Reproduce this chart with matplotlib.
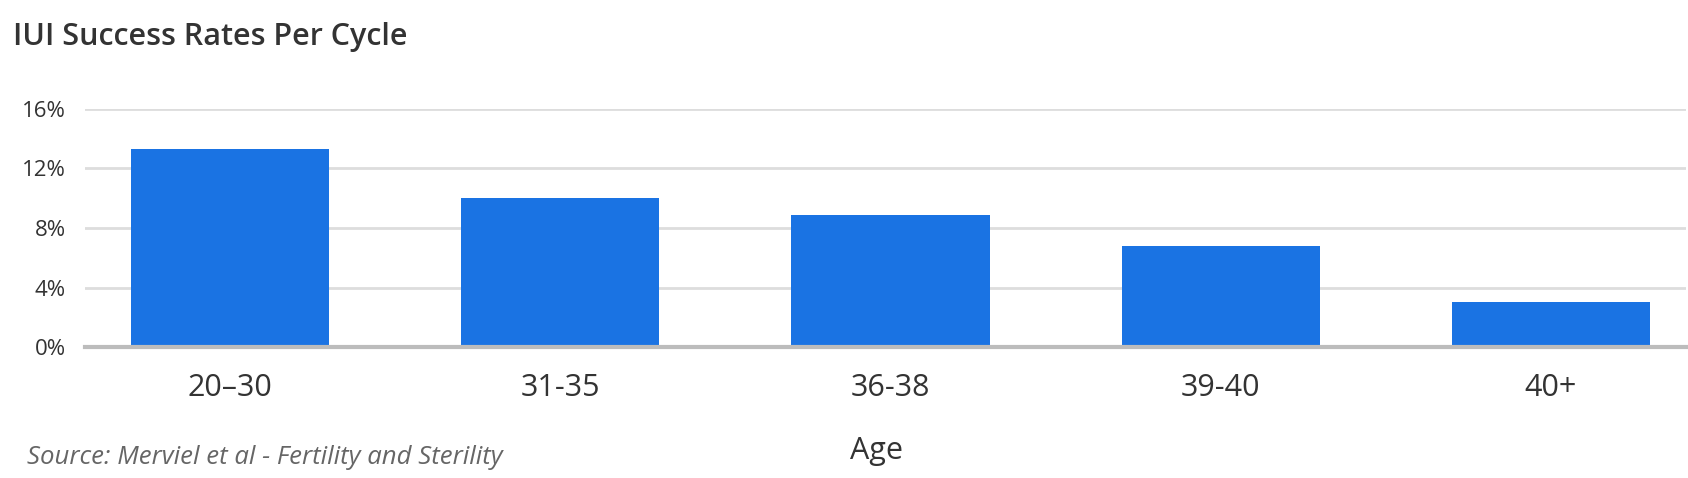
import matplotlib
matplotlib.use("Agg")
import matplotlib.pyplot as plt

# chart data
age_groups = ['20–30', '31-35', '36-38', '39-40', '40+']
success_rate = [13.3, 10.0, 8.9, 6.8, 3.0]
y_ticks = [0, 4, 8, 12, 16]
y_tick_labels = ['0%', '4%', '8%', '12%', '16%']

BAR_COLOR = '#1a73e3'
TEXT_COLOR = '#333333'

plt.rcParams['font.family'] = ['Open Sans', 'DejaVu Sans']

fig = plt.figure(figsize=(16.88, 4.78), dpi=100)
ax = fig.add_axes([0.0504, 0.274, 0.9484, 0.498])

x = list(range(len(age_groups)))
ax.bar(x, success_rate, width=0.6, color=BAR_COLOR, zorder=3)

ax.set_xlim(-0.44, 4.41)
ax.set_ylim(0, 16)
ax.set_yticks(y_ticks)
ax.set_yticklabels(y_tick_labels)
ax.set_xticks(x)
ax.set_xticklabels(age_groups)

ax.grid(axis='y', color='#dddddd', linewidth=2, zorder=0)
ax.tick_params(axis='y', length=0, pad=14, labelsize=16, labelcolor=TEXT_COLOR)
ax.tick_params(axis='x', length=0, pad=19, labelsize=22, labelcolor=TEXT_COLOR)

for side in ['top', 'right', 'left']:
    ax.spines[side].set_visible(False)
ax.spines['bottom'].set_color('#bcbcbc')
ax.spines['bottom'].set_linewidth(3)
ax.spines['bottom'].set_zorder(4)

fig.text(13 / 1688, 1 - 37 / 478, 'IUI Success Rates Per Cycle', fontsize=22,
         fontweight='semibold', color=TEXT_COLOR, ha='left', va='center')
fig.text(876 / 1688, 1 - 451 / 478, 'Age', fontsize=22, color=TEXT_COLOR,
         ha='center', va='center')
fig.text(27 / 1688, 1 - 457 / 478, 'Source: Merviel et al - Fertility and Sterility',
         fontsize=18.5, style='italic', color='#666666', ha='left', va='center')

fig.savefig('out.png', dpi=100)
